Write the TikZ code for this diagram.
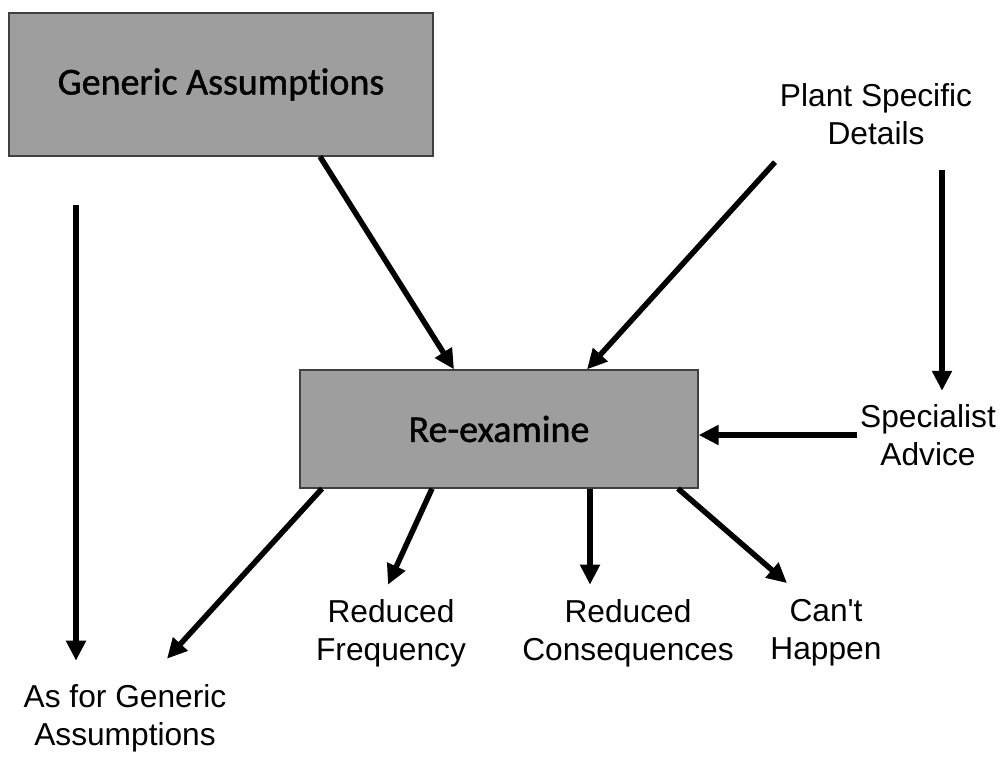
\documentclass[tikz,border=0pt]{standalone}
\usepackage{fontspec}
\setmainfont{Liberation Sans}
\newfontfamily\boxfont[Ligatures=NoCommon,FakeBold=1.2]{Carlito}
\usetikzlibrary{arrows.meta}
\definecolor{boxgrey}{gray}{0.62}
\tikzset{>={Triangle[length=20pt,width=19pt]},
  greybox/.style={draw=black!75,line width=1.2pt,fill=boxgrey,
    font=\boxfont\fontsize{38}{44}\selectfont},
  outcome/.style={align=center,font=\fontsize{31.7}{38}\selectfont},
  flow/.style={->,line width=5.5pt}}

\begin{document}
\begin{tikzpicture}[x=1pt,y=-1pt]
  \useasboundingbox (0,0) rectangle (1002,760);
  % the two shaded boxes
  \node[greybox,minimum width=424pt,minimum height=143pt] (ga) at (221,84.5) {Generic Assumptions};
  \node[greybox,minimum width=398pt,minimum height=118pt] (rx) at (499,429) {Re-examine};
  % plain labels
  \node[outcome] (pd) at (876,114) {Plant Specific\\Details};
  \node[outcome] (sa) at (928,435) {Specialist\\Advice};
  \node[outcome] (af) at (125,718) {As for Generic\\Assumptions};
  \node[outcome] (rf) at (391,633) {Reduced\\Frequency};
  \node[outcome] (rc) at (628,633) {Reduced\\Consequences};
  \node[outcome] (ch) at (826,633) {Can\textquotesingle t\\Happen};
  % into the re-examine box
  \draw[flow] ([xshift=99pt]ga.south) -- ([xshift=-45pt]rx.north);
  \draw[flow] ([xshift=-101pt,yshift=-14pt]pd.south) -- ([xshift=88pt]rx.north);
  \draw[flow] ([xshift=66pt,yshift=-22pt]pd.south) -- ([xshift=14pt,yshift=10pt]sa.north);
  \draw[flow] (sa.west) -- (sa.west -| rx.east);
  % outcomes
  \draw[flow] ([xshift=-145pt,yshift=-48pt]ga.south) -- ([xshift=-49pt,yshift=20pt]af.north);
  \draw[flow] ([xshift=-177pt]rx.south) -- ([xshift=42pt,yshift=22pt]af.north);
  \draw[flow] ([xshift=-67pt]rx.south) -- ([xshift=-3pt,yshift=11pt]rf.north);
  \draw[flow] ([xshift=91pt]rx.south) -- ([xshift=-38pt,yshift=11pt]rc.north);
  \draw[flow] ([xshift=179pt]rx.south) -- ([xshift=-39pt,yshift=13pt]ch.north);
\end{tikzpicture}
\end{document}
